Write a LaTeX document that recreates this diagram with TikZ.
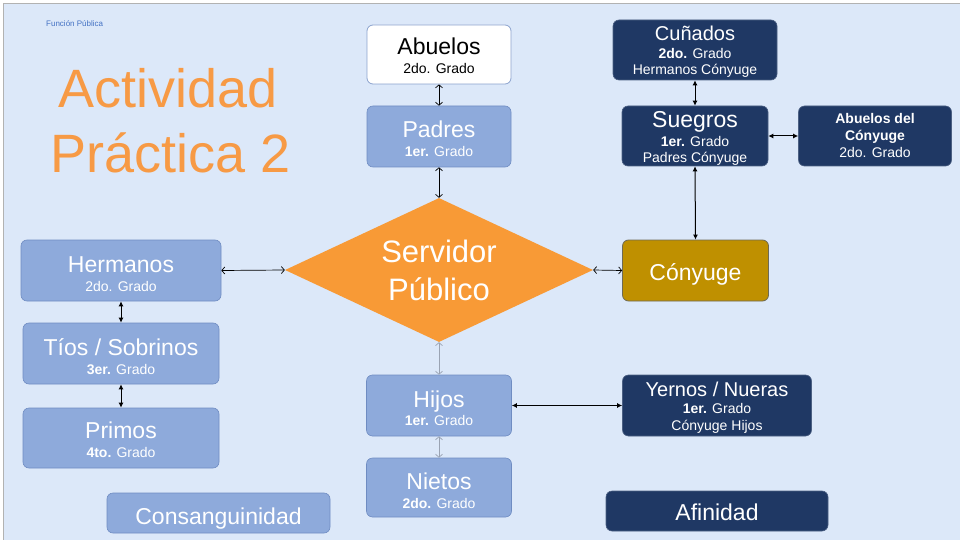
\documentclass[tikz,border=0pt]{standalone}
\usepackage{fontspec}
\setmainfont{Liberation Sans}
\usetikzlibrary{arrows.meta,shapes.geometric}
\definecolor{bg}{HTML}{DCE8F9}
\definecolor{midblue}{HTML}{8EAADB}
\definecolor{midedge}{HTML}{6F8CC2}
\definecolor{navy}{HTML}{1F3864}
\definecolor{gold}{HTML}{BF9000}
\definecolor{goldedge}{HTML}{6E6A55}
\definecolor{orng}{HTML}{F89A36}
\definecolor{titleor}{HTML}{F79A45}
\definecolor{fpblue}{HTML}{4472C4}
\definecolor{lgray}{HTML}{9AA3B3}
\newcommand\fs[1]{\fontsize{#1}{#1}\selectfont}
\tikzset{
  boxbase/.style={rectangle, rounded corners=6pt, inner sep=0pt},
  light/.style={boxbase, fill=midblue, draw=midedge, line width=0.6pt},
  dark/.style={boxbase, fill=navy, draw=navy!80!white, line width=0.6pt},
  wbox/.style={boxbase, fill=white, draw=midedge!80!white, line width=0.8pt},
  gbox/.style={boxbase, fill=gold, draw=goldedge, line width=0.8pt},
  txt/.style={anchor=base, inner sep=0pt, text=white},
  big/.style={txt, font=\fs{23}},
  small/.style={txt, font=\fs{14}},
  openarr/.style={line width=0.7pt, {Straight Barb[length=3pt,width=7pt]}-{Straight Barb[length=3pt,width=7pt]}},
  fillarr/.style={line width=1pt, {Latex[length=5pt,width=5pt]}-{Latex[length=5pt,width=5pt]}},
}
\begin{document}
\begin{tikzpicture}[x=1pt,y=-1pt]
\useasboundingbox (0,0) rectangle (960,540);
\fill[white] (0,0) rectangle (960,540);
\fill[bg] (3,3) rectangle (960,540);
\draw[gray!60, line width=0.8pt] (3,540) -- (3,3) -- (960,3);

% header texts
\node[anchor=base west, inner sep=0pt, font=\fs{8}, text=fpblue] (fp) at (46,27) {Función Pública};
\node[anchor=base west, inner sep=0pt, font=\fs{54}, text=titleor] (t1) at (58,108) {Actividad};
\node[anchor=base west, inner sep=0pt, font=\fs{54}, text=titleor] (t2) at (50,172) {Práctica 2};

% central diamond
\node[diamond, fill=orng, minimum width=308pt, minimum height=144pt, inner sep=0pt] (sp) at (439,270) {};
\node[txt, font=\fs{31}] (sp1) at (439,262) {Servidor};
\node[txt, font=\fs{31}] (sp2) at (439,300) {Público};

% upper column
\node[wbox, minimum width=144pt, minimum height=59pt] (abu) at (439,54.5) {};
\node[big, text=black] (abu1) at (439,55) {Abuelos};
\node[small, text=black] (abu2) at (439,74) {2do. Grado};

\node[light, minimum width=144pt, minimum height=61pt] (pad) at (439,136.5) {};
\node[big] (pad1) at (439,138) {Padres};
\node[small] (pad2) at (439,157) {\textbf{1er.} Grado};

% lower column
\node[light, minimum width=145pt, minimum height=61pt] (hij) at (439,405.5) {};
\node[big] (hij1) at (439,407) {Hijos};
\node[small] (hij2) at (439,425) {\textbf{1er.} Grado};

\node[light, minimum width=145pt, minimum height=59pt] (nie) at (439,487.5) {};
\node[big] (nie1) at (439,489) {Nietos};
\node[small] (nie2) at (439,508) {\textbf{2do.} Grado};

% left column
\node[light, minimum width=200pt, minimum height=61pt] (her) at (121,270.5) {};
\node[big] (her1) at (121,272) {Hermanos};
\node[small] (her2) at (121,291) {2do. Grado};

\node[light, minimum width=196pt, minimum height=61pt] (tio) at (121,353.5) {};
\node[big] (tio1) at (121,355) {Tíos / Sobrinos};
\node[small] (tio2) at (121,374) {\textbf{3er.} Grado};

\node[light, minimum width=196pt, minimum height=60pt] (pri) at (121,438) {};
\node[big] (pri1) at (121,438) {Primos};
\node[small] (pri2) at (121,457) {\textbf{4to.} Grado};

% right side
\node[gbox, minimum width=146pt, minimum height=61pt] (con) at (695.5,270.5) {};
\node[big] (con1) at (695.5,280) {Cónyuge};

\node[dark, minimum width=146pt, minimum height=60pt] (sue) at (695,136) {};
\node[big] (sue1) at (695,128) {Suegros};
\node[small] (sue2) at (695,147) {\textbf{1er.} Grado};
\node[small] (sue3) at (695,163) {Padres Cónyuge};

\node[dark, minimum width=164pt, minimum height=60pt] (cun) at (695,50) {};
\node[txt, font=\fs{20}] (cun1) at (695,41) {Cuñados};
\node[small] (cun2) at (695,59) {\textbf{2do.} Grado};
\node[small] (cun3) at (695,75) {Hermanos Cónyuge};

\node[dark, minimum width=153pt, minimum height=60pt] (abc) at (875,136) {};
\node[small, font=\fs{14}\bfseries] (abc1) at (875,124) {Abuelos del};
\node[small, font=\fs{14}\bfseries] (abc2) at (875,141) {Cónyuge};
\node[small] (abc3) at (875,158) {2do. Grado};

\node[dark, minimum width=189pt, minimum height=61pt] (yer) at (717,405.5) {};
\node[txt, font=\fs{20}] (yer1) at (717,396) {Yernos / Nueras};
\node[small] (yer2) at (717,413) {\textbf{1er.} Grado};
\node[small] (yer3) at (717,430) {Cónyuge Hijos};

% legend boxes
\node[light, minimum width=223pt, minimum height=40pt] (cons) at (218.5,513) {};
\node[big] (cons1) at (218.5,524) {Consanguinidad};
\node[dark, minimum width=222pt, minimum height=40pt] (afi) at (717,511) {};
\node[big] (afi1) at (717,520) {Afinidad};

% connectors
\draw[openarr] (abu.south) -- (pad.north);
\draw[openarr] (pad.south) -- (sp.north);
\draw[openarr] (her.east) -- (sp.west);
\draw[openarr] (sp.east) -- (con.west);
\draw[openarr, draw=lgray] (sp.south) -- (hij.north);
\draw[openarr, draw=lgray] (hij.south) -- (nie.north);
\draw[fillarr] (her.south) -- (tio.north);
\draw[fillarr] (tio.south) -- (pri.north);
\draw[fillarr] (sue.south) -- (con.north);
\draw[fillarr] (cun.south) -- (sue.north);
\draw[fillarr] (sue.east) -- (abc.west);
\draw[fillarr] (hij.east) -- (yer.west);
\end{tikzpicture}
\end{document}
